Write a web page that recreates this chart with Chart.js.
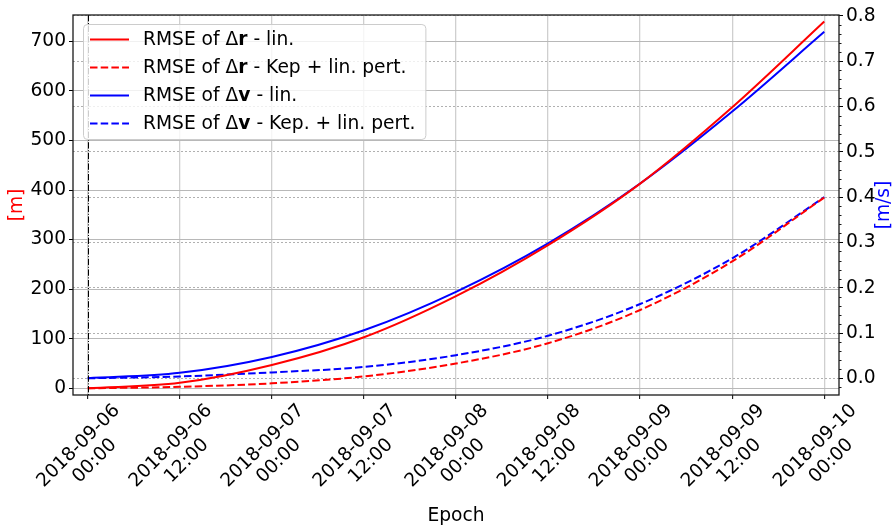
<!DOCTYPE html>
<html>
<head>
<meta charset="utf-8">
<script src="https://cdn.jsdelivr.net/npm/chart.js@4.4.0/dist/chart.umd.min.js"></script>
<style>
  html, body { margin: 0; padding: 0; background: #fff; }
  canvas { display: block; }
</style>
</head>
<body>
<canvas id="myChart" width="893" height="527"></canvas>
<script>
// epoch in hours after 2018-09-06 00:00
const hours = [0, 12, 24, 36, 48, 60, 72, 84, 96];
const tickHours = [0, 12, 24, 36, 48, 60, 72, 84, 96];
const tickLabels = [
    ['2018-09-06', '00:00'], ['2018-09-06', '12:00'],
    ['2018-09-07', '00:00'], ['2018-09-07', '12:00'],
    ['2018-09-08', '00:00'], ['2018-09-08', '12:00'],
    ['2018-09-09', '00:00'], ['2018-09-09', '12:00'],
    ['2018-09-10', '00:00']
];
const posTicks = [0, 100, 200, 300, 400, 500, 600, 700];
const velTicks = [0, 0.1, 0.2, 0.3, 0.4, 0.5, 0.6, 0.7, 0.8];

// [m]
const rmseRLin = [0, 11, 47, 103, 186, 289, 413, 567, 740];
const rmseRKep = [0, 3, 10, 24, 50, 91, 158, 256, 385];
// [m/s]
const rmseVLin = [0, 0.012, 0.047, 0.106, 0.191, 0.298, 0.430, 0.589, 0.765];
const rmseVKep = [0, 0.004, 0.013, 0.025, 0.051, 0.094, 0.164, 0.265, 0.400];

// legend text pieces: [normal, bold, normal]
const legendNames = [
    ['RMSE of \u0394', 'r', ' - lin.'],
    ['RMSE of \u0394', 'r', ' - Kep + lin. pert.'],
    ['RMSE of \u0394', 'v', ' - lin.'],
    ['RMSE of \u0394', 'v', ' - Kep. + lin. pert.']
];

const FONT = 'DejaVu Sans';
const FS = 18.67;
Chart.defaults.font.family = FONT;
Chart.defaults.font.size = FS;
Chart.defaults.color = '#000';

const dashed = [7.5, 3.2];
const toPts = (vals) => vals.map((v, i) => ({x: hours[i], y: v}));

const frame = {
    id: 'frame',
    afterDatasetsDraw(chart) {
        const {ctx, chartArea: a, scales} = chart;
        const x0 = Math.round(scales.x.getPixelForValue(0)) + 0.5;
        ctx.save();
        // dash-dot marker at start epoch
        ctx.strokeStyle = '#000';
        ctx.lineWidth = 1;
        ctx.setLineDash([6.4, 1.6, 1, 1.6]);
        ctx.beginPath();
        ctx.moveTo(x0, a.top);
        ctx.lineTo(x0, a.bottom);
        ctx.stroke();
        ctx.setLineDash([]);
        // spines
        ctx.strokeStyle = '#1a1a1a';
        ctx.lineWidth = 1.3;
        ctx.strokeRect(a.left, a.top, a.right - a.left, a.bottom - a.top);
        // minor ticks on right axis
        ctx.lineWidth = 1;
        const y1 = scales.y1;
        for (let k = -1; k <= 40; k++) {
            if (k % 5 === 0) continue;
            const py = Math.round(y1.getPixelForValue(k * 0.02)) + 0.5;
            if (py < a.top || py > a.bottom) continue;
            ctx.beginPath();
            ctx.moveTo(a.right, py);
            ctx.lineTo(a.right + 2.5, py);
            ctx.stroke();
        }
        ctx.restore();
    },
    afterDraw(chart) {
        const {ctx, chartArea: a, scales} = chart;
        const normal = FS + 'px "' + FONT + '"';
        const bold = 'bold ' + FS + 'px "' + FONT + '"';
        ctx.save();
        // x tick labels, rotated 45 deg, centred lines
        ctx.fillStyle = '#000';
        ctx.font = normal;
        ctx.textAlign = 'center';
        ctx.textBaseline = 'middle';
        tickHours.forEach((h, i) => {
            const px = scales.x.getPixelForValue(h);
            const offs = [[-9, 51], [7, 66]];
            tickLabels[i].forEach((line, j) => {
                ctx.save();
                ctx.translate(px + offs[j][0], a.bottom + offs[j][1]);
                ctx.rotate(-Math.PI / 4);
                ctx.fillText(line, 0, 0);
                ctx.restore();
            });
        });

        // right axis title, reading upwards
        ctx.save();
        ctx.fillStyle = '#0000ff';
        ctx.translate(884, (a.top + a.bottom) / 2);
        ctx.rotate(-Math.PI / 2);
        ctx.fillText('[m/s]', 0, 0);
        ctx.restore();

        // legend
        const ds = chart.data.datasets;
        const widths = legendNames.map(p => {
            ctx.font = normal;
            let w = ctx.measureText(p[0]).width + ctx.measureText(p[2]).width;
            ctx.font = bold;
            return w + ctx.measureText(p[1]).width;
        });
        const bx = a.left + 10, by = a.top + 9;
        const textX = bx + 60;
        const bw = 60 + Math.max(...widths) + 10, bh = 115;
        ctx.fillStyle = 'rgba(255,255,255,0.8)';
        ctx.strokeStyle = '#cccccc';
        ctx.lineWidth = 1;
        ctx.beginPath();
        ctx.roundRect(bx + 0.5, by + 0.5, bw, bh, 4);
        ctx.fill();
        ctx.stroke();
        legendNames.forEach((p, i) => {
            const ry = by + 15.5 + i * 28;
            ctx.strokeStyle = ds[i].borderColor;
            ctx.lineWidth = 2;
            ctx.setLineDash(ds[i].borderDash || []);
            ctx.beginPath();
            ctx.moveTo(bx + 7, ry);
            ctx.lineTo(bx + 46, ry);
            ctx.stroke();
            ctx.setLineDash([]);
            ctx.fillStyle = '#000';
            ctx.textAlign = 'left';
            let tx = textX;
            [normal, bold, normal].forEach((f, k) => {
                ctx.font = f;
                ctx.fillText(p[k], tx, ry + 1);
                tx += ctx.measureText(p[k]).width;
            });
        });
        ctx.restore();
    }
};

new Chart(document.getElementById('myChart'), {
    type: 'line',
    data: {
        datasets: [
            {data: toPts(rmseRLin), borderColor: '#ff0000', yAxisID: 'y'},
            {data: toPts(rmseRKep), borderColor: '#ff0000', borderDash: dashed, yAxisID: 'y'},
            {data: toPts(rmseVLin), borderColor: '#0000ff', yAxisID: 'y1'},
            {data: toPts(rmseVKep), borderColor: '#0000ff', borderDash: dashed, yAxisID: 'y1'}
        ]
    },
    options: {
        responsive: false,
        animation: false,
        devicePixelRatio: 1,
        layout: {padding: {top: 15, left: 0, right: 0, bottom: 0}},
        elements: {
            point: {radius: 0},
            line: {borderWidth: 2, cubicInterpolationMode: 'monotone', fill: false}
        },
        plugins: {legend: {display: false}, tooltip: {enabled: false}},
        scales: {
            x: {
                type: 'linear',
                min: -1.92,
                max: 97.92,
                afterBuildTicks: (s) => { s.ticks = tickHours.map(v => ({value: v})); },
                afterFit: (s) => { s.height = 132; },
                ticks: {display: false},
                grid: {color: '#cfcfcf', lineWidth: 1.3, tickColor: '#000', tickWidth: 1, tickLength: 4},
                border: {display: false},
                title: {display: true, text: 'Epoch', padding: {top: 0, bottom: 0}}
            },
            y: {
                position: 'left',
                min: -13.5,
                max: 753.1,
                afterBuildTicks: (s) => { s.ticks = posTicks.map(v => ({value: v})); },
                afterFit: (s) => { s.width = 73; },
                ticks: {padding: 3, callback: (v) => String(v)},
                grid: {color: '#b8b8b8', lineWidth: 1, tickColor: '#000', tickWidth: 1, tickLength: 4},
                border: {display: false},
                title: {display: true, text: '[m]', color: '#ff0000', padding: {top: 6, bottom: 0}}
            },
            y1: {
                position: 'right',
                min: -0.0369,
                max: 0.8022,
                afterBuildTicks: (s) => { s.ticks = velTicks.map(v => ({value: v})); },
                afterFit: (s) => { s.width = 54; },
                ticks: {padding: 3, callback: (v) => v.toFixed(1)},
                grid: {color: '#b0b0b0', lineWidth: 1, tickColor: '#000', tickWidth: 1, tickLength: 4},
                border: {display: false, dash: [2, 2]},
                title: {display: false}
            }
        }
    },
    plugins: [frame]
});
</script>
</body>
</html>
